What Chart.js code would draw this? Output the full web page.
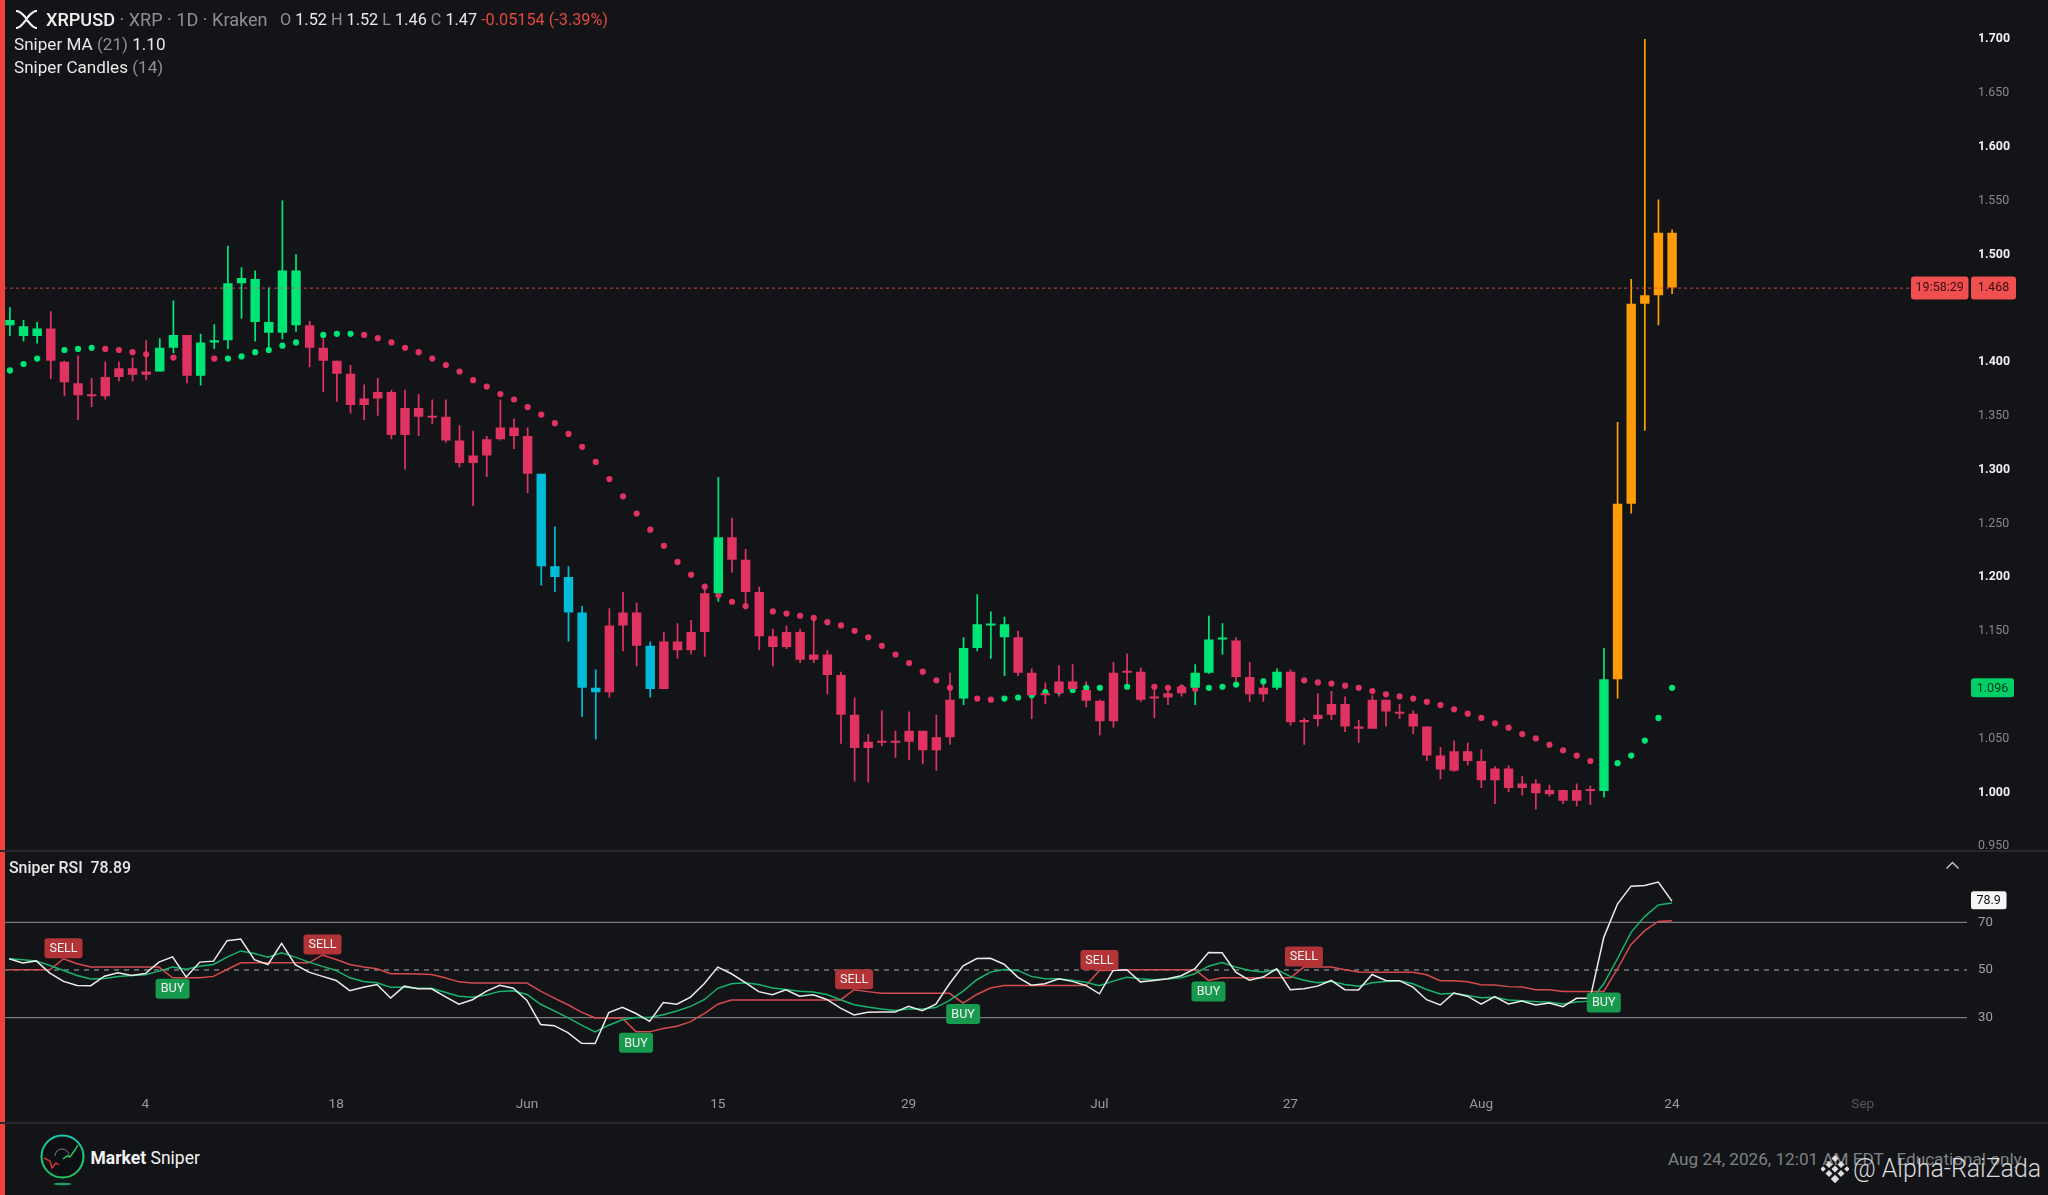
<!DOCTYPE html>
<html><head><meta charset="utf-8">
<script src="https://cdn.jsdelivr.net/npm/chart.js@4"></script>
<style>
html,body{margin:0;padding:0;background:#131418;width:2048px;height:1195px;overflow:hidden}
#root{position:relative;width:2048px;height:1195px;font-family:Roboto,sans-serif;overflow:hidden;background:#131418}
canvas{position:absolute;left:0}
.t{position:absolute;white-space:pre;line-height:1;color:#e8e8e8}
.g{color:#8d8f94}
</style></head><body><div id="root">
<canvas id="price" width="2048" height="890" style="top:-20px;width:2048px;height:890px"></canvas>
<canvas id="rsi" width="2048" height="292" style="top:830px;width:2048px;height:292px"></canvas>
<div style="position:absolute;left:0;top:0;width:4.5px;height:1195px;background:#f0423c"></div>
<div style="position:absolute;left:0;top:850px;width:2048px;height:1.5px;background:#26282d"></div>
<div style="position:absolute;left:0;top:1122px;width:2048px;height:1.5px;background:#26282d"></div>

<svg style="position:absolute;left:15px;top:10px" width="23" height="19" viewBox="0 0 23 19"><path d="M1 1 C6 1 8 5 11.5 8.5 C15 5 17 1 22 1 M1 18 C6 18 8 13 11.5 9.5 C15 13 17 18 22 18" fill="none" stroke="#f2f2f2" stroke-width="2.2"/></svg>
<div class="t" style="left:46px;top:10.5px;font-size:18.1px;font-weight:500;color:#f0f0f0">XRPUSD<span class="g" style="font-weight:400"> · XRP · 1D · Kraken</span></div>
<div class="t" style="left:280px;top:11.5px;font-size:16.25px"><span class="g">O</span> 1.52 <span class="g">H</span> 1.52 <span class="g">L</span> 1.46 <span class="g">C</span> 1.47 <span style="color:#e5483f">-0.05154 (-3.39%)</span></div>
<div class="t" style="left:14px;top:36px;font-size:17.1px">Sniper MA <span class="g">(21)</span> 1.10</div>
<div class="t" style="left:14px;top:59px;font-size:17.1px">Sniper Candles <span class="g">(14)</span></div>
<div class="t" style="left:9px;top:859.5px;font-size:15.9px;font-weight:500">Sniper RSI  78.89</div>

<svg style="position:absolute;left:38px;top:1130px" width="50" height="60" viewBox="0 0 50 60">
<defs><linearGradient id="lg" x1="0" y1="0" x2="0" y2="1"><stop offset="0" stop-color="#16c9b0"/><stop offset="1" stop-color="#22c55e"/></linearGradient></defs>
<circle cx="24.5" cy="26.5" r="21" fill="#0d0f12" stroke="url(#lg)" stroke-width="2"/>
<path d="M6 28 L12 31 L14 38 L18 33 L21 35" fill="none" stroke="#d6322f" stroke-width="1.4"/>
<path d="M25 29 L29 26 L32 27 L37 20 L40 15" fill="none" stroke="#22d15a" stroke-width="1.4"/>
<path d="M17 26 A7 7 0 0 1 31 26" fill="none" stroke="#8a8a8a" stroke-width="0.9"/>
<ellipse cx="24.5" cy="54" rx="9" ry="1.3" fill="#1f9d5a"/></svg>
<div class="t" style="left:90.5px;top:1150px;font-size:17.5px;color:#f2f2f2"><b>Market</b> Sniper</div>
<div class="t" style="left:1668px;top:1150.5px;font-size:17.15px;color:#7f8185">Aug 24, 2026, 12:01 AM EDT · Educational only</div>
<svg style="position:absolute;left:1821px;top:1155px" width="28" height="28" viewBox="0 0 28 28" fill="#dedede">
<rect x="11.5" y="1" width="5" height="5" transform="rotate(45 14 3.5)"/><rect x="5.5" y="7" width="5" height="5" transform="rotate(45 8 9.5)"/><rect x="17.5" y="7" width="5" height="5" transform="rotate(45 20 9.5)"/><rect x="0" y="12" width="4" height="4" transform="rotate(45 2 14)"/><rect x="24" y="12" width="4" height="4" transform="rotate(45 26 14)"/><rect x="11.5" y="11.5" width="5" height="5" transform="rotate(45 14 14)"/><rect x="5.5" y="16" width="5" height="5" transform="rotate(45 8 18.5)"/><rect x="17.5" y="16" width="5" height="5" transform="rotate(45 20 18.5)"/><rect x="11" y="21" width="6" height="6" transform="rotate(45 14 24)"/></svg>
<div class="t" style="left:1853px;top:1156.5px;font-size:24.9px;font-weight:300;color:#d8d8d8">@ Alpha-RaiZada</div>
</div>
<script>
const categories = ['Apr 24','Apr 25','Apr 26','Apr 27','Apr 28','Apr 29','Apr 30',
'May 1','May 2','May 3','May 4','May 5','May 6','May 7','May 8','May 9','May 10','May 11','May 12','May 13','May 14','May 15','May 16','May 17','May 18','May 19','May 20','May 21','May 22','May 23','May 24','May 25','May 26','May 27','May 28','May 29','May 30','May 31',
'Jun 1','Jun 2','Jun 3','Jun 4','Jun 5','Jun 6','Jun 7','Jun 8','Jun 9','Jun 10','Jun 11','Jun 12','Jun 13','Jun 14','Jun 15','Jun 16','Jun 17','Jun 18','Jun 19','Jun 20','Jun 21','Jun 22','Jun 23','Jun 24','Jun 25','Jun 26','Jun 27','Jun 28','Jun 29','Jun 30',
'Jul 1','Jul 2','Jul 3','Jul 4','Jul 5','Jul 6','Jul 7','Jul 8','Jul 9','Jul 10','Jul 11','Jul 12','Jul 13','Jul 14','Jul 15','Jul 16','Jul 17','Jul 18','Jul 19','Jul 20','Jul 21','Jul 22','Jul 23','Jul 24','Jul 25','Jul 26','Jul 27','Jul 28','Jul 29','Jul 30','Jul 31',
'Aug 1','Aug 2','Aug 3','Aug 4','Aug 5','Aug 6','Aug 7','Aug 8','Aug 9','Aug 10','Aug 11','Aug 12','Aug 13','Aug 14','Aug 15','Aug 16','Aug 17','Aug 18','Aug 19','Aug 20','Aug 21','Aug 22','Aug 23','Aug 24','Aug 25','Aug 26','Aug 27','Aug 28','Aug 29','Aug 30','Aug 31',
'Sep 1','Sep 2','Sep 3','Sep 4','Sep 5','Sep 6','Sep 7','Sep 8','Sep 9','Sep 10','Sep 11','Sep 12','Sep 13','Sep 14'];
const tickCategories = ['May 4','May 18','Jun 1','Jun 15','Jun 29','Jul 13','Jul 27','Aug 10','Aug 24','Sep 7'];
const tickLabels = ['4','18','Jun','15','29','Jul','27','Aug','24','Sep'];
const priceTicks = [1.7,1.65,1.6,1.55,1.5,1.4,1.35,1.3,1.25,1.2,1.15,1.05,1.0,0.95];
const boldPriceTicks = [1.7,1.6,1.5,1.4,1.3,1.2,1.0];
const rsiTicks = [30,50,70];

const opens = [1.433,1.423,1.423,1.430,1.399,1.379,1.368,1.385,1.393,1.393,
1.390,1.390,1.412,1.424,1.386,1.417,1.419,1.472,1.436,1.426,
1.426,1.433,1.433,1.412,1.400,1.388,1.365,1.371,1.371,1.356,
1.356,1.348,1.348,1.326,1.312,1.327,1.338,1.338,1.330,1.295,
1.209,1.199,1.166,1.096,1.154,1.166,1.166,1.135,1.139,1.139,
1.148,1.184,1.184,1.236,1.215,1.185,1.144,1.148,1.148,1.127,
1.127,1.108,1.071,1.046,1.046,1.046,1.056,1.056,1.050,1.085,
1.086,1.133,1.154,1.143,1.143,1.110,1.091,1.102,1.102,1.094,
1.084,1.110,1.111,1.111,1.087,1.091,1.097,1.096,1.110,1.141,
1.140,1.106,1.096,1.096,1.111,1.066,1.071,1.081,1.081,1.060,
1.085,1.085,1.073,1.072,1.060,1.033,1.037,1.037,1.028,1.021,
1.021,1.007,1.007,1.001,1.001,1.001,1.001,1.000,1.104,1.267,
1.453,1.461,1.519];
const closes = [1.438,1.432,1.430,1.400,1.380,1.368,1.367,1.367,1.385,1.387,
1.387,1.412,1.424,1.386,1.417,1.419,1.472,1.477,1.476,1.436,
1.484,1.484,1.412,1.400,1.388,1.359,1.359,1.365,1.331,1.331,
1.348,1.347,1.326,1.305,1.305,1.312,1.327,1.330,1.295,1.209,
1.199,1.166,1.096,1.092,1.092,1.154,1.135,1.095,1.095,1.131,
1.131,1.148,1.236,1.215,1.185,1.144,1.134,1.134,1.122,1.122,
1.108,1.071,1.040,1.040,1.045,1.045,1.046,1.038,1.038,1.050,
1.133,1.155,1.155,1.155,1.110,1.089,1.089,1.091,1.095,1.084,
1.065,1.065,1.110,1.085,1.086,1.087,1.091,1.110,1.141,1.142,
1.106,1.090,1.090,1.111,1.064,1.064,1.067,1.071,1.060,1.058,
1.058,1.074,1.072,1.060,1.033,1.020,1.019,1.028,1.010,1.010,
1.003,1.003,0.998,0.997,0.991,0.991,1.000,1.104,1.267,1.453,
1.461,1.519,1.468];
const highs = [1.450,1.438,1.436,1.446,1.400,1.405,1.384,1.399,1.399,1.403,
1.419,1.421,1.456,1.424,1.425,1.434,1.507,1.487,1.484,1.468,
1.549,1.499,1.437,1.421,1.400,1.396,1.378,1.384,1.373,1.373,
1.369,1.364,1.364,1.340,1.335,1.330,1.364,1.346,1.338,1.295,
1.246,1.209,1.172,1.113,1.170,1.185,1.175,1.139,1.148,1.156,
1.159,1.189,1.292,1.254,1.225,1.190,1.151,1.154,1.151,1.161,
1.131,1.111,1.087,1.053,1.075,1.056,1.074,1.056,1.071,1.110,
1.143,1.183,1.167,1.162,1.149,1.114,1.101,1.117,1.118,1.102,
1.085,1.120,1.128,1.115,1.097,1.097,1.099,1.118,1.163,1.156,
1.143,1.120,1.105,1.114,1.113,1.068,1.091,1.093,1.088,1.066,
1.089,1.085,1.081,1.075,1.060,1.041,1.047,1.045,1.039,1.023,
1.024,1.014,1.011,1.006,1.001,1.007,1.005,1.133,1.343,1.476,
1.699,1.550,1.522];
const lows = [1.423,1.418,1.416,1.383,1.367,1.345,1.357,1.364,1.381,1.381,
1.382,1.390,1.407,1.379,1.377,1.411,1.411,1.439,1.418,1.412,
1.420,1.427,1.394,1.371,1.362,1.351,1.345,1.349,1.327,1.299,
1.330,1.341,1.324,1.301,1.265,1.292,1.326,1.318,1.277,1.191,
1.185,1.139,1.069,1.048,1.087,1.130,1.116,1.087,1.095,1.123,
1.127,1.125,1.176,1.203,1.172,1.131,1.116,1.132,1.119,1.119,
1.090,1.044,1.009,1.008,1.042,1.031,1.029,1.025,1.019,1.043,
1.080,1.130,1.123,1.107,1.107,1.067,1.081,1.088,1.092,1.078,
1.052,1.059,1.097,1.083,1.068,1.080,1.088,1.080,1.109,1.127,
1.102,1.083,1.083,1.094,1.061,1.043,1.060,1.066,1.055,1.045,
1.058,1.060,1.067,1.053,1.028,1.011,1.018,1.024,1.003,0.988,
0.999,0.996,0.983,0.995,0.988,0.986,0.987,0.994,1.086,1.258,
1.335,1.433,1.462];
const sniperMA = [1.391,1.397,1.402,1.407,1.410,1.411,1.412,1.411,1.410,1.408,
1.406,1.405,1.403,1.402,1.402,1.402,1.402,1.404,1.408,1.410,
1.414,1.417,1.422,1.424,1.425,1.425,1.424,1.421,1.417,1.412,
1.408,1.402,1.396,1.390,1.382,1.376,1.369,1.364,1.357,1.350,
1.342,1.332,1.320,1.306,1.290,1.274,1.258,1.243,1.228,1.213,
1.201,1.190,1.182,1.176,1.172,1.170,1.167,1.165,1.163,1.161,
1.157,1.154,1.149,1.143,1.135,1.127,1.119,1.111,1.103,1.096,
1.090,1.086,1.085,1.086,1.087,1.089,1.092,1.093,1.094,1.096,
1.096,1.096,1.097,1.097,1.097,1.096,1.096,1.095,1.096,1.097,
1.099,1.100,1.102,1.103,1.103,1.103,1.101,1.100,1.098,1.096,
1.093,1.090,1.088,1.086,1.083,1.080,1.076,1.072,1.068,1.063,
1.059,1.053,1.049,1.043,1.038,1.033,1.028,1.025,1.026,1.033,
1.047,1.068,1.096];
const maColorRuns = [[7,'g'],[9,'r'],[10,'g'],[47,'r'],[11,'g'],[4,'r'],[6,'g'],[23,'r'],[6,'g']];
const greenCandles = [0,1,2,11,12,14,15,16,17,18,19,20,21,52,70,71,72,73,87,88,89,93,117];
const cyanCandles = [39,40,41,42,43,47];
const orangeCandles = [118,119,120,121,122];

const rsiWhite = [54.7,52.9,53.8,48.7,45.2,43.5,43.4,47.4,48.8,47.7,
48.5,53.3,55.5,47.0,53.3,53.7,62.3,63.0,54.3,52.3,
61.2,52.2,49.1,47.3,45.6,41.3,42.7,43.9,38.2,43.2,
42.1,42.1,38.8,35.6,37.5,41.0,43.6,42.3,37.2,27.1,
26.6,23.7,19.2,19.1,32.1,34.3,31.7,28.4,36.3,35.6,
38.6,44.2,51.2,48.4,44.8,40.9,39.6,41.7,39.0,39.6,
37.6,34.0,31.1,32.2,32.3,32.3,34.7,32.9,35.6,44.2,
51.7,54.8,54.9,52.4,47.0,43.6,44.2,46.3,45.2,43.5,
40.0,49.8,50.1,45.0,45.6,46.3,47.6,50.5,57.3,57.2,
49.1,45.7,47.0,50.5,41.7,42.1,43.2,45.6,41.7,41.6,
48.1,45.6,45.5,42.8,37.5,35.3,40.3,39.0,35.6,38.8,
35.7,37.0,35.3,36.1,34.6,38.1,38.1,63.7,77.7,85.2,
85.5,86.9,78.89];
const rsiGreen = [54.7,54.3,53.8,51.9,49.8,47.7,46.2,46.4,47.3,47.7,
48.0,49.5,51.2,50.3,51.6,52.3,55.4,58.0,56.9,55.4,
57.2,55.4,53.3,51.5,49.8,46.7,45.2,44.6,42.7,42.7,
42.3,42.3,40.6,39.0,38.5,39.5,41.0,41.3,39.7,35.6,
32.8,30.0,26.8,24.0,26.8,29.1,30.0,30.0,31.2,32.8,
34.7,37.5,42.3,44.2,44.6,43.9,42.4,41.8,41.1,40.7,
39.7,37.5,35.4,34.4,33.6,33.0,33.6,33.6,34.2,37.2,
41.1,45.9,49.1,50.2,49.8,47.3,46.3,46.3,45.7,44.8,
43.4,45.3,46.9,46.3,45.9,46.2,46.7,48.4,51.6,53.1,
51.2,49.8,49.1,50.2,47.3,45.7,44.6,45.2,43.9,43.2,
44.6,45.2,45.5,44.2,41.8,39.9,40.2,39.3,38.3,38.5,
37.4,37.1,36.7,36.4,35.7,36.5,36.9,44.2,54.7,65.8,
72.4,77.3,78.1];
const rsiRed = [50.1,50.1,50.1,50.1,54.7,52.6,51.2,51.2,51.2,51.2,
51.2,51.2,46.7,46.7,46.7,47.3,50.2,53.0,53.0,53.0,
53.0,53.0,53.0,56.3,54.4,52.3,51.2,50.5,48.4,48.4,
48.3,48.1,46.7,45.0,44.5,44.5,44.5,44.5,44.5,41.1,
38.2,35.4,32.3,29.8,29.8,29.7,24.0,24.0,25.4,26.4,
28.3,31.7,35.6,37.4,37.4,37.4,37.4,37.4,37.4,37.4,
37.4,37.4,41.7,40.9,40.2,40.2,40.2,40.2,40.2,40.2,
36.1,39.7,42.4,43.5,43.5,43.5,43.5,43.5,43.5,43.5,
49.8,49.9,50.1,50.1,50.1,50.1,50.1,50.1,45.6,46.7,
46.7,46.7,46.7,46.7,46.7,51.2,51.2,51.2,50.1,49.1,
49.0,49.0,49.0,49.0,48.0,45.5,45.5,45.0,43.8,43.7,
43.0,42.8,41.7,41.7,41.0,41.0,41.0,41.0,50.5,60.7,
66.5,70.4,70.7];
const sellSignals = [4,23,62,80,95];
const buySignals = [12,46,70,88,117];
const lastPrice = 1.468, maLast = 1.096, rsiLast = 78.89;

const GREEN='#00e676', RED='#e03362', CYAN='#00bcd9', ORANGE='#ff9b06';
const candleColor = i => greenCandles.includes(i)?GREEN:cyanCandles.includes(i)?CYAN:orangeCandles.includes(i)?ORANGE:RED;
const colorsAll = opens.map((_,i)=>candleColor(i));
const maColors = maColorRuns.flatMap(([n,c])=>Array(n).fill(c==='g'?GREEN:RED));
const FONT='Roboto, sans-serif';
const PAD_LEFT=2.18, AXIS_W=83;
const isBold = c => !!c.tick && boldPriceTicks.includes(c.tick.value);

function box(ctx,x,y,w,h,r,fill){ctx.fillStyle=fill;ctx.beginPath();ctx.roundRect(x,y,w,h,r);ctx.fill();}

const pricePlugin={id:'priceMarks',afterDatasetsDraw(c){
  const ctx=c.ctx,y=c.scales.y.getPixelForValue(lastPrice),ym=c.scales.y.getPixelForValue(maLast);
  ctx.save();
  ctx.strokeStyle='rgba(236,80,72,.85)';ctx.lineWidth=1;ctx.setLineDash([3,3]);
  ctx.beginPath();ctx.moveTo(4,y+.5);ctx.lineTo(1911,y+.5);ctx.stroke();ctx.setLineDash([]);
  box(ctx,1911,y-11,57.5,23,3,'#f04f4f');box(ctx,1971,y-11,45,23,3,'#f04f4f');
  box(ctx,1971,ym-9.5,43,19,3,'#00d066');
  ctx.font='12.5px '+FONT;ctx.textBaseline='middle';ctx.textAlign='center';
  ctx.fillStyle='#3a0d0d';ctx.fillText('19:58:29',1939.7,y+.7);ctx.fillText(lastPrice.toFixed(3),1993.5,y+.7);
  ctx.fillStyle='#06351c';ctx.fillText(maLast.toFixed(3),1992.5,ym+.7);
  ctx.restore();
}};
const rsiUnder={id:'rsiRefs',beforeDatasetsDraw(c){
  const ctx=c.ctx,s=c.scales.y,a=c.chartArea;
  ctx.save();ctx.lineWidth=1.3;
  rsiTicks.forEach(v=>{
    const y=s.getPixelForValue(v);
    ctx.strokeStyle=v===50?'#8b8d90':'#77797c';
    ctx.setLineDash(v===50?[5,5]:[]);
    ctx.beginPath();ctx.moveTo(4,y);ctx.lineTo(a.right+2,y);ctx.stroke();
  });
  ctx.restore();
}};
const rsiOver={id:'rsiMarks',afterDatasetsDraw(c){
  const ctx=c.ctx,sx=c.scales.x,sy=c.scales.y;
  const lab=(i,t)=>{
    const x=sx.getPixelForValue(i),v=sy.getPixelForValue(rsiRed[i]);
    const w=t==='SELL'?38:34,h=20,y=t==='SELL'?v-h-0.5:v+1;
    box(ctx,x-w/2,y,w,h,3,t==='SELL'?'#b23437':'#17994e');
    ctx.fillStyle='#f2f2f2';ctx.font='12.6px '+FONT;ctx.textAlign='center';ctx.textBaseline='middle';
    ctx.fillText(t,x,y+h/2+.5);
  };
  ctx.save();
  sellSignals.forEach(i=>lab(i,'SELL'));buySignals.forEach(i=>lab(i,'BUY'));
  const yl=sy.getPixelForValue(rsiLast)-1;
  box(ctx,1971,yl-9,35.5,18,2.5,'#f6f6f6');
  ctx.fillStyle='#111';ctx.font='12.5px '+FONT;ctx.textAlign='center';ctx.textBaseline='middle';
  ctx.fillText(rsiLast.toFixed(1),1988.7,yl+.7);
  ctx.strokeStyle='#c8c8c8';ctx.lineWidth=1.4;ctx.beginPath();ctx.moveTo(1946.5,868.5-830);ctx.lineTo(1952.5,862.5-830);ctx.lineTo(1958.5,868.5-830);ctx.stroke();
  ctx.restore();
}};

new Chart(document.getElementById('price'),{
  type:'bar',
  data:{labels:categories,datasets:[
    {type:'bar',label:'Wick',order:3,grouped:false,barThickness:1.7,inflateAmount:0,borderWidth:0,
      data:lows.map((l,i)=>[l,highs[i]]),backgroundColor:colorsAll},
    {type:'line',label:'Sniper MA',order:2,data:sniperMA,showLine:false,pointRadius:3.1,pointBorderWidth:0,
      pointBackgroundColor:maColors,pointHoverRadius:3.1},
    {type:'bar',label:'Sniper Candles',order:1,grouped:false,barThickness:9.4,inflateAmount:0,borderWidth:0,minBarLength:2,
      data:opens.map((o,i)=>[o,closes[i]]),backgroundColor:colorsAll}
  ]},
  options:{responsive:false,animation:false,events:[],
    layout:{padding:{top:20,bottom:20,left:PAD_LEFT,right:0}},
    plugins:{legend:{display:false},tooltip:{enabled:false}},
    scales:{
      x:{display:false,offset:true,grid:{display:false}},
      y:{position:'right',min:0.94568,max:1.73491,
        grid:{display:false,drawTicks:false},border:{display:false},
        afterBuildTicks(s){s.ticks=priceTicks.map(v=>({value:v}));},
        afterFit(s){s.width=AXIS_W;},
        ticks:{padding:13,autoSkip:false,labelOffset:1.4,
          callback:v=>Number(v).toFixed(3),
          color:c=>isBold(c)?'#f0f0f0':'#85878b',
          font:c=>({family:FONT,size:12.4,weight:isBold(c)?'700':'400'})}
      }
    }
  },
  plugins:[pricePlugin]
});

new Chart(document.getElementById('rsi'),{
  type:'line',
  data:{labels:categories,datasets:[
    {label:'RSI signal',order:3,data:rsiRed,borderColor:'#d64a4c',borderWidth:1.5,pointRadius:0,tension:0},
    {label:'RSI average',order:2,data:rsiGreen,borderColor:'#17b56c',borderWidth:1.5,pointRadius:0,tension:0},
    {label:'Sniper RSI',order:1,data:rsiWhite,borderColor:'#ececec',borderWidth:1.5,pointRadius:0,tension:0}
  ]},
  options:{responsive:false,animation:false,events:[],
    layout:{padding:{top:20,left:PAD_LEFT,right:0,bottom:0}},
    plugins:{legend:{display:false},tooltip:{enabled:false}},
    scales:{
      x:{offset:true,grid:{display:false,drawTicks:false},border:{display:false},
        afterBuildTicks(s){s.ticks=tickCategories.map(l=>({value:categories.indexOf(l)}));},
        afterFit(s){s.height=33;},
        ticks:{padding:7,autoSkip:false,maxRotation:0,
          callback:v=>tickLabels[tickCategories.indexOf(categories[v])],
          color:c=>c.tick&&c.tick.value===categories.indexOf('Sep 7')?'#55575b':'#9a9b9e',
          font:{family:FONT,size:13.6}}
      },
      y:{position:'right',min:0,max:100,grid:{display:false,drawTicks:false},border:{display:false},
        afterBuildTicks(s){s.ticks=rsiTicks.map(v=>({value:v}));},
        afterFit(s){s.width=AXIS_W;},
        ticks:{padding:13,color:'#a0a1a4',font:{family:FONT,size:13.2},callback:v=>String(v)}
      }
    }
  },
  plugins:[rsiUnder,rsiOver]
});
</script>
</body></html>
